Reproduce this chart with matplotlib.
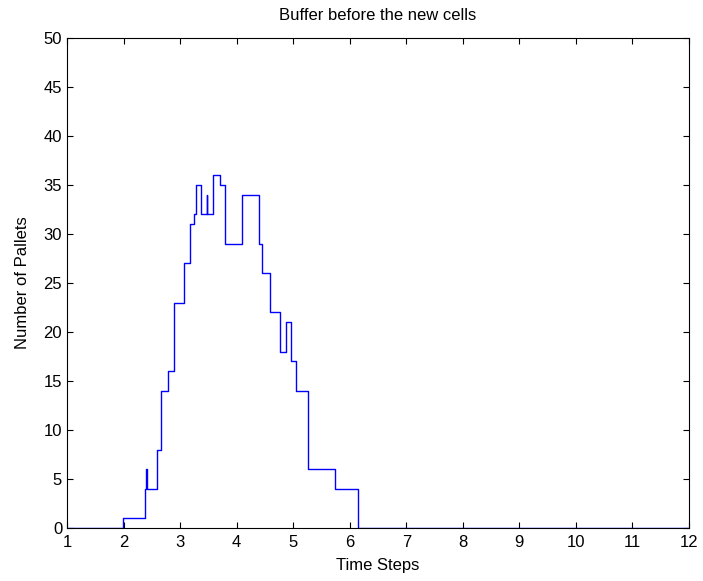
import matplotlib
matplotlib.use("Agg")
import matplotlib.pyplot as plt

plt.rcParams["font.family"] = ["Liberation Sans", "DejaVu Sans"]

# step change times and buffer level after each change
times = [1.0, 1.985, 2.379, 2.405, 2.412, 2.597, 2.663, 2.78, 2.89, 3.075,
         3.175, 3.252, 3.276, 3.375, 3.47, 3.476, 3.582, 3.705, 3.786,
         4.088, 4.389, 4.443, 4.59, 4.77, 4.873, 4.96, 5.05, 5.256, 5.733,
         6.14, 12.0]
pallets = [0, 1, 4, 6, 4, 8, 14, 16, 23, 27,
           31, 32, 35, 32, 34, 32, 36, 35, 29,
           34, 29, 26, 22, 18, 21, 17, 14, 6, 4,
           0, 0]

fig = plt.figure(figsize=(7.03, 5.81), dpi=100)
ax = fig.add_axes([67 / 703, 53 / 581, 622 / 703, 490 / 581])

ax.plot(times, pallets, color="blue", linewidth=1.0, drawstyle="steps-post")

ax.set_xlim(1, 12)
ax.set_ylim(0, 50)
ax.set_xticks(range(1, 13))
ax.set_yticks(range(0, 51, 5))
ax.tick_params(direction="in", top=True, right=True, labelsize=12, length=4)
ax.tick_params(axis="x", pad=5)
ax.set_title("Buffer before the new cells", fontsize=12, pad=13)
ax.set_xlabel("Time Steps", fontsize=12, labelpad=6)
ax.set_ylabel("Number of Pallets", fontsize=12, labelpad=10)

fig.savefig("out.png", dpi=100)
